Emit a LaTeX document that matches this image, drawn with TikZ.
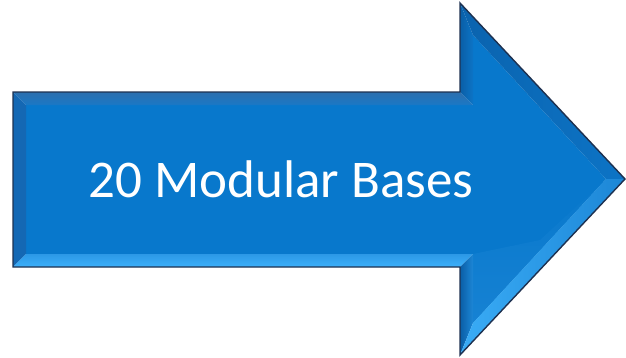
\documentclass[tikz,border=0pt]{standalone}
\usepackage{fontspec}
\setmainfont{Carlito}
\definecolor{face}{HTML}{0878CC}
\definecolor{topbev}{HTML}{2C6FAE}
\definecolor{topbevB}{HTML}{1A78C6}
\definecolor{leftbev}{HTML}{1468B4}
\definecolor{botbevA}{HTML}{2C98E6}
\definecolor{botbevB}{HTML}{3CB0FA}
\definecolor{headdark}{HTML}{0A5EA6}
\definecolor{headdiagA}{HTML}{0B63AE}
\definecolor{headdiagB}{HTML}{0C74C6}
\definecolor{headlowA}{HTML}{1C86D6}
\definecolor{headlowB}{HTML}{3AACF6}
\definecolor{outline}{HTML}{1E3150}
\tikzset{
  arrowline/.style={draw=outline, line width=1.4pt, line join=miter},
  labeltext/.style={text=white, font=\fontsize{53}{63}\selectfont, inner sep=0pt, anchor=base}
}
\begin{document}
\begin{tikzpicture}[x=1pt,y=-1pt]
\useasboundingbox (0,0) rectangle (626,357);
% outer corners
\coordinate (o1) at (13,92);
\coordinate (o2) at (460,92);
\coordinate (o3) at (460,3);
\coordinate (o4) at (625,179);
\coordinate (o5) at (460,355);
\coordinate (o6) at (460,267);
\coordinate (o7) at (13,267);
% inner corners
\coordinate (i1) at (26,105);
\coordinate (i2) at (473,105);
\coordinate (i3) at (473,35);
\coordinate (i4) at (606,179);
\coordinate (i5) at (473,323);
\coordinate (i6) at (473,254);
\coordinate (i7) at (26,254);
% center face
\fill[face] (i1) -- (i2) -- (i3) -- (i4) -- (i5) -- (i6) -- (i7) -- cycle;
\shade[top color=face, bottom color=headlowA!70!face] (i4) -- (i5) -- (i6) -- (540,240) -- cycle;
% bevels
\shade[top color=topbev, bottom color=topbevB] (o1) -- (o2) -- (i2) -- (i1) -- cycle;
\fill[leftbev] (o1) -- (i1) -- (i7) -- (o7) -- cycle;
\shade[top color=botbevA, bottom color=botbevB] (i7) -- (i6) -- (o6) -- (o7) -- cycle;
\shade[left color=headdark, right color=headdiagB] (o2) -- (o3) -- (i3) -- (i2) -- cycle;
\shade[shading angle=45, left color=headdiagA, right color=headdiagB] (o3) -- (o4) -- (i4) -- (i3) -- cycle;
\shade[left color=headdark, right color=headlowA] (o6) -- (o5) -- (i5) -- (i6) -- cycle;
\shade[shading angle=-45, left color=headlowB, right color=headlowA] (o4) -- (o5) -- (i5) -- (i4) -- cycle;
% outline
\draw[arrowline] (o1) -- (o2) -- (o3) -- (o4) -- (o5) -- (o6) -- (o7) -- cycle;
% label
\node[labeltext] (lbl) at (281,197) {20 Modular Bases};
\end{tikzpicture}
\end{document}
